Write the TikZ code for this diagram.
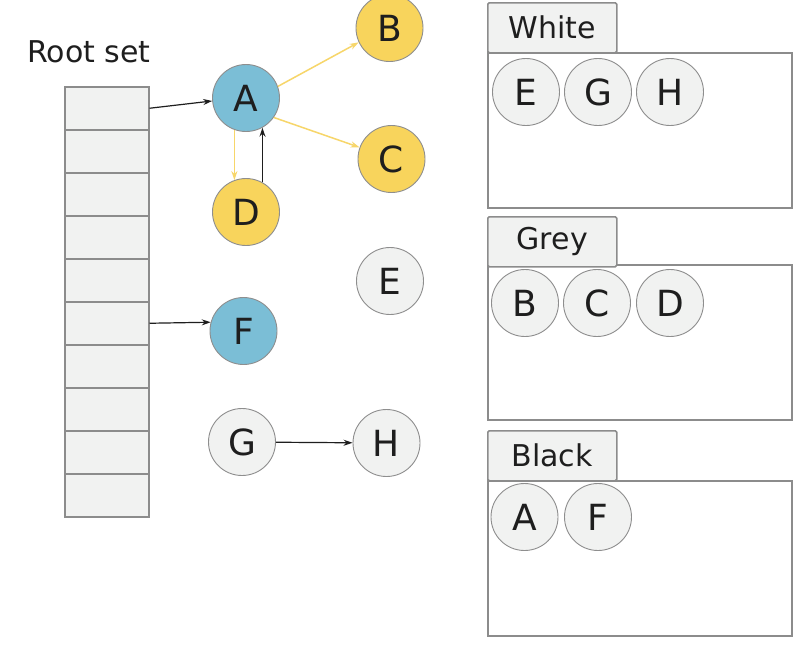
\documentclass[tikz,border=0pt]{standalone}
\usepackage{fontspec}
\setmainfont{DejaVu Sans}
\usetikzlibrary{arrows.meta}
\definecolor{cellfill}{HTML}{F1F2F1}
\definecolor{cellline}{HTML}{8C8C8C}
\definecolor{nodeblue}{HTML}{7BBED6}
\definecolor{nodeyellow}{HTML}{F8D45C}
\definecolor{arrowyellow}{HTML}{F7D66A}
\definecolor{ringgray}{HTML}{8E8E8E}
\definecolor{textdark}{HTML}{1E1E1E}
\tikzset{
  cell/.style={draw=cellline, line width=1.5pt, fill=cellfill, minimum width=84pt, minimum height=43pt, inner sep=0pt, anchor=north west},
  obj/.style={circle, draw=ringgray, line width=0.9pt, minimum size=67pt, inner sep=0pt, text=textdark, font=\fontsize{36}{40}\selectfont},
  whiteobj/.style={obj, fill=cellfill},
  blueobj/.style={obj, fill=nodeblue},
  yellowobj/.style={obj, fill=nodeyellow},
  label/.style={text=textdark, font=\fontsize{30}{34}\selectfont, inner sep=0pt},
  tab/.style={draw=cellline, line width=1.5pt, fill=cellfill, rounded corners=1.5pt, minimum width=129pt, minimum height=50pt, inner sep=0pt, anchor=north west, text=textdark, font=\fontsize{30}{34}\selectfont},
  setbox/.style={draw=cellline, line width=1.5pt, fill=white, minimum width=304pt, minimum height=155pt, inner sep=0pt, anchor=north west},
  blackarrow/.style={draw=textdark, line width=1.2pt, -{Stealth[length=9pt,width=6pt]}},
  yellowarrow/.style={draw=arrowyellow, line width=1.5pt, -{Stealth[length=9pt,width=6pt]}}
}
\begin{document}
\begin{tikzpicture}[x=1pt,y=-1pt]
\useasboundingbox (0,0) rectangle (808,646);
\fill[white] (0,0) rectangle (808,646);

% Root set
\node[label] (rootlabel) at (89,52) {Root set};
\foreach \i in {1,...,10} {
  \node[cell] (r\i) at (64,{86+(\i-1)*43}) {};
}

% object graph
\node[blueobj] (A) at (246,98) {A};
\node[yellowobj] (B) at (389.5,28) {B};
\node[yellowobj] (C) at (391.5,159) {C};
\node[yellowobj] (D) at (246,212) {D};
\node[whiteobj] (E) at (390,281) {E};
\node[blueobj] (F) at (243.5,331) {F};
\node[whiteobj] (G) at (242,442) {G};
\node[whiteobj] (H) at (386.5,443) {H};

\draw[blackarrow] (r1.east) -- (A.185);
\draw[blackarrow] (r6.east) -- (F.165);
\draw[yellowarrow] (A.20) -- (B.205);
\draw[yellowarrow] (A.-35) -- (C.160);
\draw[yellowarrow] (A.250) -- (D.110);
\draw[blackarrow] (D.61) -- (A.-61);
\draw[blackarrow] (G) -- (H);

% White set
\node[setbox] (wbox) at (487,52) {};
\node[tab] (wtab) at (487,2) {White};
\node[whiteobj] (wE) at (526,92) {E};
\node[whiteobj] (wG) at (598,92) {G};
\node[whiteobj] (wH) at (670,92) {H};

% Grey set
\node[setbox] (gbox) at (487,264) {};
\node[tab] (gtab) at (487,216) {Grey};
\node[whiteobj] (gB) at (525,303) {B};
\node[whiteobj] (gC) at (597,303) {C};
\node[whiteobj] (gD) at (670,303) {D};

% Black set
\node[setbox] (bbox) at (487,480) {};
\node[tab] (btab) at (487,430) {Black};
\node[whiteobj] (bA) at (524.5,517) {A};
\node[whiteobj] (bF) at (598,517) {F};
\end{tikzpicture}
\end{document}
